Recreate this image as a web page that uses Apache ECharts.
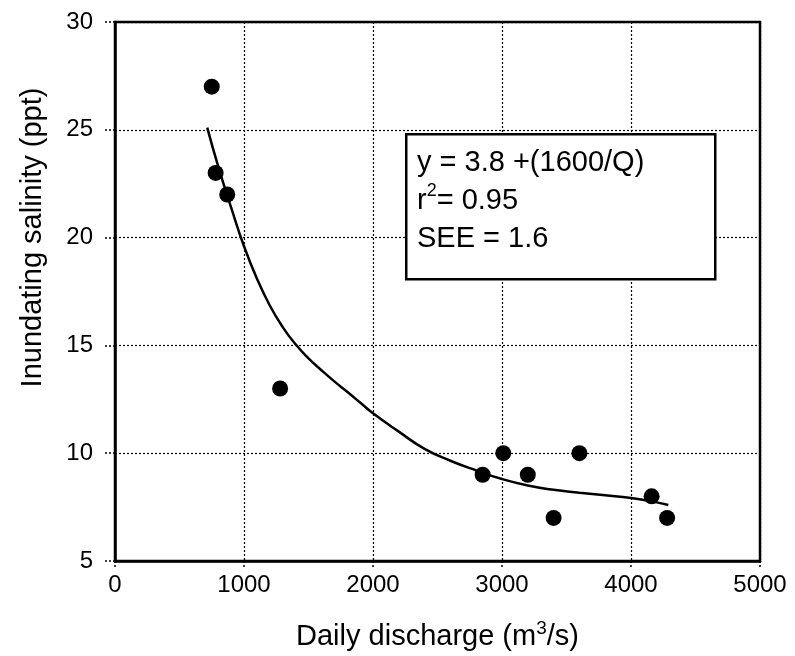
<!DOCTYPE html>
<html><head><meta charset="utf-8">
<script src="https://cdn.jsdelivr.net/npm/echarts@6/dist/echarts.min.js"></script>
<style>html,body{margin:0;padding:0;background:#fff}#c{width:795px;height:656px}</style>
</head><body><div id="c"></div>
<script>
// Observed data: daily discharge (m3/s) vs inundating salinity (ppt)
const discharge = [750, 780, 870, 1280, 2850, 3010, 3200, 3400, 3600, 4160, 4280];
const salinity  = [27, 23, 22, 13, 9, 10, 9, 7, 10, 8, 7];
// Fitted curve
const fitQ = [715, 800, 900, 1000, 1100, 1200, 1300, 1400, 1500, 1600, 1700, 1800, 1900, 2000, 2200, 2400, 2600, 2800, 3000, 3200, 3400, 3600, 3800, 4000, 4200, 4289];
const fitS = [25.1, 23.3, 21.4, 19.6, 18.1, 16.85, 15.85, 15.05, 14.4, 13.85, 13.33, 12.85, 12.35, 11.85, 11.0, 10.2, 9.65, 9.2, 8.8, 8.5, 8.3, 8.17, 8.05, 7.92, 7.72, 7.6];
const xTicks = [0, 1000, 2000, 3000, 4000, 5000];
const yTicks = [5, 10, 15, 20, 25, 30];
const boxLines = ['y = 3.8 +(1600/Q)', 'r{sup|2}= 0.95', 'SEE = 1.6'];

const FONT = '"Liberation Sans", Arial, Helvetica, sans-serif';
const chart = echarts.init(document.getElementById('c'), null, {renderer: 'canvas'});
chart.setOption({
  animation: false,
  backgroundColor: '#fff',
  grid: {left: 115, right: 35, top: 22, bottom: 95, show: true, borderColor: '#000', borderWidth: 2.5, backgroundColor: 'transparent'},
  xAxis: {
    type: 'value', min: xTicks[0], max: xTicks[xTicks.length - 1], interval: 1000,
    name: 'Daily discharge (m{sup|3}/s)', nameLocation: 'middle', nameGap: 58,
    nameTextStyle: {color: '#000', fontSize: 29, fontFamily: FONT,
      rich: {sup: {fontSize: 19, verticalAlign: 'top', padding: [0, 0, 16, 0], color: '#000', fontFamily: FONT}}},
    axisLine: {show: true, lineStyle: {color: '#000', width: 2.5}},
    axisTick: {show: true, length: 6, lineStyle: {color: '#000', width: 1.5, type: [2, 2]}},
    axisLabel: {color: '#000', fontSize: 24, fontFamily: FONT, margin: 12, formatter: v => String(v)},
    splitLine: {show: true, lineStyle: {color: '#000', width: 1.2, type: [2, 2]}}
  },
  yAxis: {
    type: 'value', min: yTicks[0], max: yTicks[yTicks.length - 1], interval: 5,
    name: 'Inundating salinity (ppt)', nameLocation: 'middle', nameGap: 68,
    nameTextStyle: {color: '#000', fontSize: 29, fontFamily: FONT, padding: [0, 0, 0, 108]},
    axisLine: {show: true, lineStyle: {color: '#000', width: 2.5}},
    axisTick: {show: true, length: 10, lineStyle: {color: '#000', width: 1.5, type: [2, 2]}},
    axisLabel: {color: '#000', fontSize: 24, fontFamily: FONT, margin: 22, formatter: v => String(v)},
    splitLine: {show: true, lineStyle: {color: '#000', width: 1.2, type: [2, 2]}}
  },
  series: [
    {
      type: 'line', data: fitQ.map((q, i) => [q, fitS[i]]), smooth: true, showSymbol: false,
      lineStyle: {color: '#000', width: 2.5}, z: 3
    },
    {
      type: 'scatter', data: discharge.map((q, i) => [q, salinity[i]]), symbol: 'circle', symbolSize: 16,
      itemStyle: {color: '#000', opacity: 1}, z: 4
    }
  ],
  graphic: [
    {type: 'rect', left: 405, top: 133, shape: {width: 309, height: 145}, z: 10,
      style: {fill: '#fff', stroke: '#000', lineWidth: 2.5}},
    {type: 'text', left: 417, top: 144, z: 11,
      style: {text: boxLines.join('\n'), fill: '#000', font: '29px ' + FONT, lineHeight: 38,
        rich: {sup: {fontSize: 18, verticalAlign: 'top', padding: [0, 0, 15, 0], fill: '#000', fontFamily: FONT, lineHeight: 38}}}}
  ]
});
</script></body></html>
